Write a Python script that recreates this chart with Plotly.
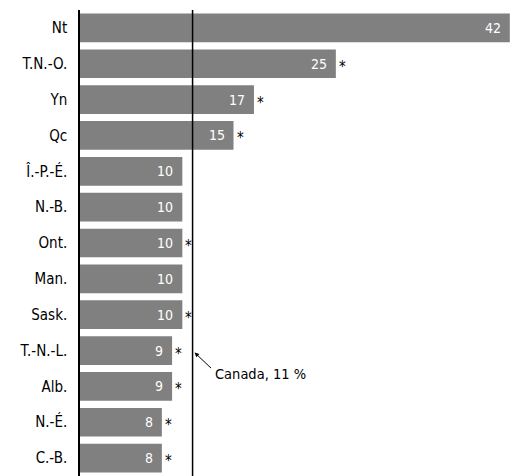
import plotly.graph_objects as go

provinces = ["Nt", "T.N.-O.", "Yn", "Qc", "Î.-P.-É.", "N.-B.", "Ont.", "Man.",
             "Sask.", "T.-N.-L.", "Alb.", "N.-É.", "C.-B."]
values = [42, 25, 17, 15, 10, 10, 10, 10, 10, 9, 9, 8, 8]
significant = [True, True, True, True, False, False, True, False, True, True, True, True, True]
canada_value = 11
canada_label = "Canada, 11 %"

FONT = "DejaVu Sans Condensed, Liberation Sans, sans-serif"
BAR = "#808080"

fig = go.Figure()
fig.add_trace(go.Bar(
    y=provinces, x=values, orientation="h",
    marker=dict(color=BAR, line=dict(width=0)),
    width=0.8, hoverinfo="skip",
))

annotations = []
for p, v, s in zip(provinces, values, significant):
    annotations.append(dict(
        x=v, y=p, xref="x", yref="y", text=str(v), showarrow=False,
        xanchor="right", xshift=-7,
        font=dict(family=FONT, size=14, color="white"),
    ))
    if s:
        annotations.append(dict(
            x=v, y=p, xref="x", yref="y", text="*", showarrow=False,
            xanchor="left", xshift=1, yshift=-3,
            font=dict(family=FONT, size=15, color="black"),
        ))

# Canada arrow + label
annotations.append(dict(
    x=canada_value, y="T.-N.-L.", xref="x", yref="y", text="",
    showarrow=True, arrowhead=2, arrowsize=0.9, arrowwidth=1, arrowcolor="black",
    ax=18, ay=17, xshift=2, yshift=-2, standoff=0,
))
annotations.append(dict(
    x=canada_value, y="T.-N.-L.", xref="x", yref="y", text=canada_label,
    showarrow=False, xanchor="left", xshift=20, yshift=-23,
    font=dict(family=FONT, size=14.5, color="black"),
))

# The page body adds an 8px offset; margins compensate so the plot sits where the reference has it.
fig.update_layout(
    width=518, height=476,
    margin=dict(l=72, r=8, t=2, b=8, autoexpand=False),
    paper_bgcolor="white", plot_bgcolor="white",
    showlegend=False, bargap=0.2,
    font=dict(family=FONT, size=15, color="black"),
    xaxis=dict(range=[0, 42.8], visible=False, fixedrange=True, automargin=False),
    yaxis=dict(
        categoryorder="array", categoryarray=provinces, automargin=False,
        range=[12.5, -0.5], showline=True, linecolor="black", linewidth=1.5,
        ticks="", showgrid=False, zeroline=False, ticklabelstandoff=8,
        tickfont=dict(family=FONT, size=15, color="black"),
    ),
    shapes=[dict(
        type="line", xref="x", yref="paper", x0=canada_value, x1=canada_value,
        y0=0, y1=1, line=dict(color="black", width=1.5), layer="above",
    )],
    annotations=annotations,
)

fig.write_html("out.html")
